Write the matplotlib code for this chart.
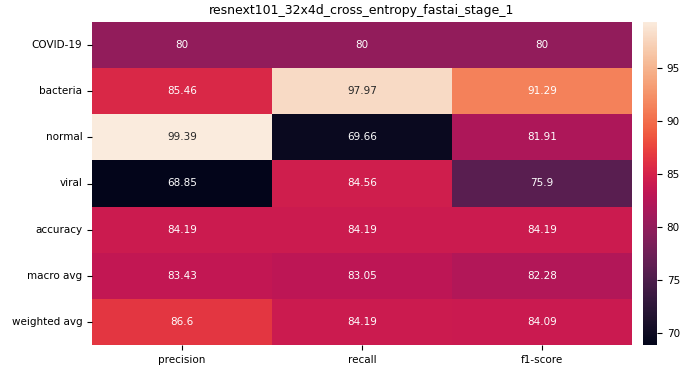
import matplotlib
matplotlib.use("Agg")
import matplotlib.pyplot as plt
import seaborn as sns
import pandas as pd

rows = ["COVID-19", "bacteria", "normal", "viral", "accuracy", "macro avg", "weighted avg"]
cols = ["precision", "recall", "f1-score"]
precision = [80, 85.46, 99.39, 68.85, 84.19, 83.43, 86.6]
recall = [80, 97.97, 69.66, 84.56, 84.19, 83.05, 84.19]
f1_score = [80, 91.29, 81.91, 75.9, 84.19, 82.28, 84.09]

df = pd.DataFrame({"precision": precision, "recall": recall, "f1-score": f1_score},
                  index=rows)[cols]

fig = plt.figure(figsize=(6.99, 3.71), dpi=100)
ax = fig.add_axes([92 / 699, 26 / 371, 540 / 699, 323 / 371])
cax = fig.add_axes([643 / 699, 26 / 371, 14 / 699, 323 / 371])

sns.heatmap(df, annot=True, fmt="g", ax=ax, cbar_ax=cax,
            annot_kws={"fontsize": 7.5})
ax.set_title("resnext101_32x4d_cross_entropy_fastai_stage_1", fontsize=9)
ax.tick_params(labelsize=7.5)
ax.set_yticklabels(rows, rotation=0)
cax.tick_params(labelsize=7.5)

fig.savefig("out.png", dpi=100)
